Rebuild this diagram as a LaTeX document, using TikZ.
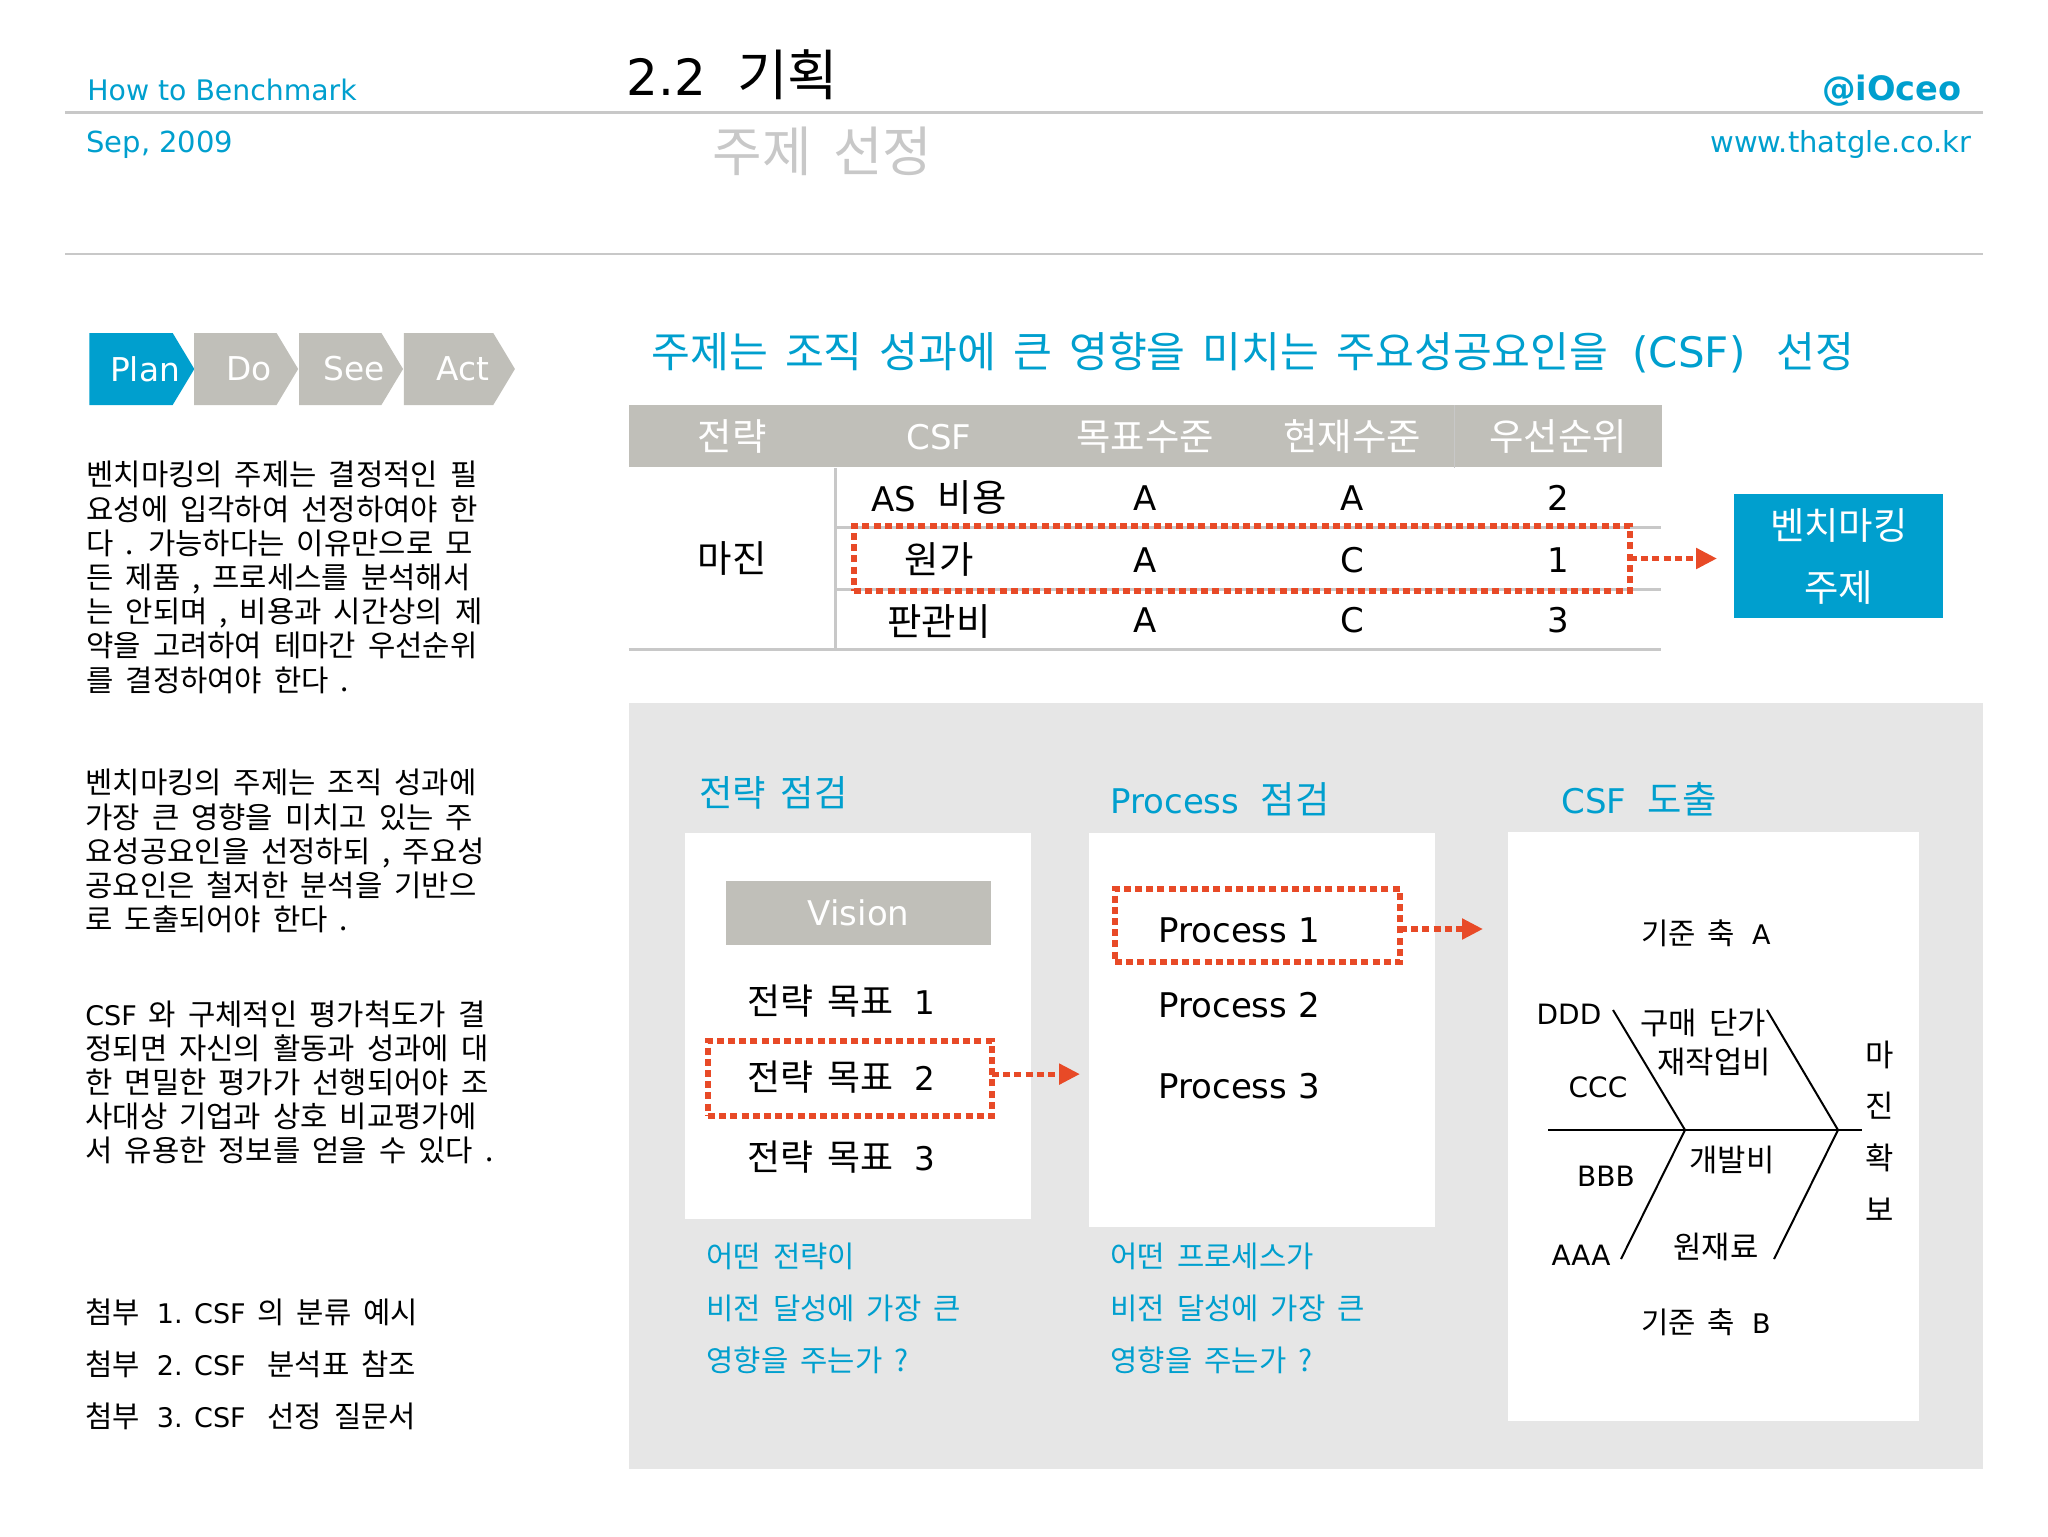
\documentclass[tikz,border=0pt]{standalone}
\usepackage{fontspec}
\setmainfont[Scale=1.1,WordSpace=1.8]{Noto Sans CJK KR}
\newfontfamily\latfont{DejaVu Sans}
\newcommand{\lat}[1]{{\latfont #1}}
\newcommand{\pxfont}[2]{\fontsize{#1}{#2}\selectfont}
\newcommand{\steptext}[1]{\makebox[0pt]{\hspace*{14pt}\lat{#1}}}
\usetikzlibrary{arrows.meta,positioning,shapes.symbols}
\definecolor{brand}{HTML}{009FCE}
\definecolor{stone}{HTML}{C0BFB9}
\definecolor{rule}{HTML}{C8C8C8}
\definecolor{panel}{HTML}{E6E6E6}
\definecolor{accent}{HTML}{E84A27}
\tikzset{
    %Define style for step chevrons
    chevron/.style={
           signal,
           signal to=east,
           signal from=nowhere,
           signal pointer angle=118,
           inner sep=0pt,
           minimum height=36pt,
           fill=stone,
           text=white,
           font=\pxfont{16.4}{18},
           },
    %Define style for text
    label/.style={
           inner sep=0pt,
           anchor=base,
           },
    bodytext/.style={
           inner sep=0pt,
           anchor=north west,
           align=left,
           font=\pxfont{13.5}{17.1},
           },
    bluetext/.style={
           bodytext,
           text=brand,
           font=\pxfont{13.5}{25.8},
           },
    tablehead/.style={
           label,
           text=white,
           font=\pxfont{17}{20},
           },
    tablecell/.style={
           label,
           font=\pxfont{17}{20},
           },
    colhead/.style={
           label,
           anchor=base west,
           text=brand,
           font=\pxfont{17}{20},
           },
    goal/.style={
           label,
           anchor=base west,
           font=\pxfont{17}{20},
           },
    fishtext/.style={
           label,
           font=\pxfont{14}{16},
           },
    % Define box styles
    whitebox/.style={
           fill=white,
           inner sep=0pt,
           anchor=north west,
           },
    pick/.style={
           draw=accent,
           line width=2.6pt,
           dash pattern=on 3.5pt off 2.1pt,
           inner sep=0pt,
           outer sep=0pt,
           anchor=north west,
           },
    % Define arrow style
    pil/.style={
           -{Triangle[length=10.5pt,width=10pt]},
           draw=accent,
           line width=2.6pt,
           dash pattern=on 3.5pt off 2.1pt,
           },
    rulerline/.style={
           draw=rule,
           line width=1.5pt,
           },
    bone/.style={
           draw=black,
           line width=1pt,
           }
}
\begin{document}
\begin{tikzpicture}[x=0.5pt,y=-0.5pt]
\useasboundingbox (0,0) rectangle (2048,1536);

 %header
\coordinate (topl) at (65,113);
\coordinate (topr) at (1983,113);
\coordinate (midl) at (65,254);
\coordinate (midr) at (1983,254);
\draw[rulerline] (topl) -- (topr);
\draw[rule,line width=1pt] (midl) -- (midr);
\node[label,anchor=base west,text=brand,font=\pxfont{14.15}{16}] (howto) at (87,100) {\lat{How to Benchmark}};
\node[label,anchor=base west,text=brand,font=\pxfont{14.5}{16}] (date) at (86,152) {\lat{Sep, 2009}};
\node[label,anchor=base west,font=\pxfont{25}{30}] (title) at (626,96) {\lat{2.2} \,기획};
\node[label,anchor=base west,text=rule,font=\pxfont{24.5}{30}] (subtitle) at (712,171.5) {주제 선정};
\node[label,anchor=base east,text=brand,font=\pxfont{16.8}{18}] (handle) at (1962,100) {\lat{\bfseries @iOceo}};
\node[label,anchor=base east,text=brand,font=\pxfont{14.5}{16}] (web) at (1972,152) {\lat{www.thatgle.co.kr}};

 %steps
\node[chevron,fill=brand,minimum width=52.5pt] (plan) at (131,369) {\steptext{Plan}};
\node[chevron,minimum width=52pt,right=-0.5pt of plan] (do) {\steptext{Do}};
\node[chevron,minimum width=52pt,right=0pt of do] (see) {\steptext{See}};
\node[chevron,minimum width=55.5pt,right=0pt of see] (act) {\steptext{Act}};

 %left column
\node[bodytext] (para1) at (86,461) {벤치마킹의 주제는 결정적인 필\\요성에 입각하여 선정하여야 한\\다 . 가능하다는 이유만으로 모\\든 제품 , 프로세스를 분석해서\\는 안되며 , 비용과 시간상의 제\\약을 고려하여 테마간 우선순위\\를 결정하여야 한다 .};
\node[bodytext] (para2) at (85,769) {벤치마킹의 주제는 조직 성과에\\가장 큰 영향을 미치고 있는 주\\요성공요인을 선정하되 , 주요성\\공요인은 철저한 분석을 기반으\\로 도출되어야 한다 .};
\node[bodytext] (para3) at (85,1000) {\lat{CSF} 와 구체적인 평가척도가 결\\정되면 자신의 활동과 성과에 대\\한 면밀한 평가가 선행되어야 조\\사대상 기업과 상호 비교평가에\\서 유용한 정보를 얻을 수 있다 .};
\node[bodytext,font=\pxfont{13.5}{26}] (annex) at (85,1298) {첨부 \,\lat{1. CSF} 의 분류 예시\\첨부 \,\lat{2. CSF} \,\,분석표 참조\\첨부 \,\lat{3. CSF} \,\,선정 질문서};

 %table
\node[label,anchor=base west,text=brand,font=\pxfont{19.2}{24}] (heading) at (651,367.5) {주제는 조직 성과에 큰 영향을 미치는 주요성공요인을 \,{\pxfont{21}{24}\lat{(CSF)}} \,\,선정};
\node[fill=stone,inner sep=0pt,anchor=north west,minimum width=516.5pt,minimum height=31pt] (thead) at (628.6,405) {};
\coordinate (row1l) at (835.5,527);
\coordinate (row1r) at (1661,527);
\coordinate (row2l) at (835.5,589);
\coordinate (row2r) at (1661,589);
\coordinate (botl) at (628.6,649);
\coordinate (botr) at (1661,649);
\coordinate (botm) at (835.5,649);
\coordinate (headsep) at (1454,405);
\draw[rulerline] (row1l) -- (row1r);
\draw[rulerline] (row2l) -- (row2r);
\draw[rulerline] (botl) -- (botr);
\draw[rulerline] (row1l |- thead.south) -- (botm);
\draw[rule,line width=0.4pt] (headsep) -- (headsep |- thead.south);
\node[tablehead] (h1) at (732,450) {전략};
\node[tablehead] (h2) at (939,449) {\lat{CSF}};
\node[tablehead] (h3) at (1145,450) {목표수준};
\node[tablehead] (h4) at (1352,450) {현재수준};
\node[tablehead] (h5) at (1558,450) {우선순위};
\node[tablecell] (margin) at (732,572.5) {마진};
\node[tablecell] (c11) at (939,511.5) {\lat{AS} \,비용};
\node[tablecell] (c12) at (1145,510.7) {\lat{A}};
\node[tablecell] (c13) at (1352,510.7) {\lat{A}};
\node[tablecell] (c14) at (1558,510.7) {\lat{2}};
\node[tablecell] (c21) at (939,573.5) {원가};
\node[tablecell] (c22) at (1145,572) {\lat{A}};
\node[tablecell] (c23) at (1352,572) {\lat{C}};
\node[tablecell] (c24) at (1558,572) {\lat{1}};
\node[tablecell] (c31) at (939,635) {판관비};
\node[tablecell] (c32) at (1145,632.7) {\lat{A}};
\node[tablecell] (c33) at (1352,632.7) {\lat{C}};
\node[tablecell] (c34) at (1558,632.7) {\lat{3}};
\node[pick,minimum width=388pt,minimum height=32.5pt] (pickrow) at (854,526) {};
\node[fill=brand,inner sep=0pt,anchor=north west,minimum width=104.5pt,minimum height=62pt,text=white,align=center,font=\pxfont{17}{31}] (topic) at (1734,494) {벤치마킹\\주제};
\draw[pil,shorten >=8.5pt] (pickrow.east) -- (pickrow.east -| topic.west);

 %lower panel
\node[fill=panel,inner sep=0pt,anchor=north west,minimum width=677pt,minimum height=383pt] (panel) at (629,702.5) {};
\node[colhead,font=\pxfont{16.5}{20}] (strat) at (699,806) {전략 점검};
\node[colhead] (proc) at (1110,813) {\lat{Process} \,점검};
\node[colhead] (csf) at (1561,813) {\lat{CSF} \,도출};
\node[whitebox,minimum width=173pt,minimum height=193pt] (box1) at (685,833) {};
\node[whitebox,minimum width=173pt,minimum height=197pt] (box2) at (1089,833) {};
\node[whitebox,minimum width=205.5pt,minimum height=294.5pt] (box3) at (1508,832) {};

 %strategy box
\node[fill=stone,inner sep=0pt,anchor=north west,minimum width=132.7pt,minimum height=32.2pt,text=white,font=\pxfont{17}{20}] (vision) at (725.5,880.6) {\lat{Vision}};
\node[goal,font=\pxfont{16.3}{20}] (g1) at (747,1014) {전략 목표 \,\lat{1}};
\node[goal,font=\pxfont{16.3}{20}] (g2) at (747,1090) {전략 목표 \,\lat{2}};
\node[goal,font=\pxfont{16.3}{20}] (g3) at (747,1170) {전략 목표 \,\lat{3}};
\node[pick,minimum width=142pt,minimum height=37.5pt] (pickgoal) at (708,1041) {};
\draw[pil,shorten >=4.5pt] ([yshift=2.2pt]pickgoal.east) -- ([yshift=2.2pt]pickgoal.east -| box2.west);
\node[bluetext] (q1) at (706,1243) {어떤 전략이\\비전 달성에 가장 큰\\영향을 주는가 ?};

 %process box
\node[goal] (p1) at (1158,942) {\lat{Process 1}};
\node[goal] (p2) at (1158,1017) {\lat{Process 2}};
\node[goal] (p3) at (1158,1098) {\lat{Process 3}};
\node[pick,minimum width=142.5pt,minimum height=36.5pt] (pickproc) at (1115,889) {};
\draw[pil,shorten >=12.5pt] ([yshift=-1.75pt]pickproc.east) -- ([yshift=-1.75pt]pickproc.east -| box3.west);
\node[bluetext] (q2) at (1110,1243) {어떤 프로세스가\\비전 달성에 가장 큰\\영향을 주는가 ?};

 %fishbone
\coordinate (spinel) at (1548,1130);
\coordinate (spiner) at (1862,1130);
\coordinate (joina) at (1685,1130);
\coordinate (joinb) at (1838,1130);
\coordinate (upa) at (1613,1010);
\coordinate (upb) at (1767,1010);
\coordinate (downa) at (1621,1259);
\coordinate (downb) at (1774,1259);
\draw[bone] (spinel) -- (spiner);
\draw[bone] (upa) -- (joina);
\draw[bone] (upb) -- (joinb);
\draw[bone] (downa) -- (joina);
\draw[bone] (downb) -- (joinb);
\node[fishtext,font=\pxfont{13.5}{16}] (axisa) at (1706,944) {기준 축 \,\lat{A}};
\node[fishtext,font=\pxfont{13.5}{16}] (axisb) at (1706,1333) {기준 축 \,\lat{B}};
\node[fishtext] (ddd) at (1569,1024) {\lat{DDD}};
\node[fishtext] (ccc) at (1598,1097) {\lat{CCC}};
\node[fishtext] (bbb) at (1606,1186) {\lat{BBB}};
\node[fishtext] (aaa) at (1581,1265) {\lat{AAA}};
\node[fishtext] (buy) at (1703,1034) {구매 단가};
\node[fishtext] (rework) at (1714,1073) {재작업비};
\node[fishtext] (dev) at (1732,1171) {개발비};
\node[fishtext] (raw) at (1716,1258) {원재료};
\node[inner sep=0pt,align=center,font=\pxfont{14}{25.8}] (goalv) at (1880,1131) {마\\진\\확\\보};
\end{tikzpicture}
\end{document}
